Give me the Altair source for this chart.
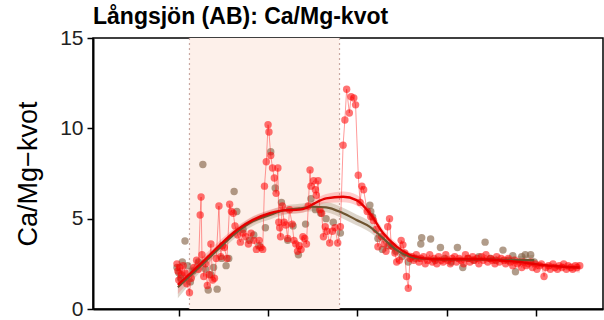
import altair as alt
import pandas as pd

# ---- data ----
period = [1971.2, 1988.0]

red_year = [1969.8, 1969.9, 1970.0, 1970.1, 1970.3, 1970.5, 1970.7, 1970.9, 1971.2, 1971.4,
            1971.7, 1972.0, 1972.2, 1972.4, 1972.5, 1972.6, 1972.8, 1973.0, 1973.2, 1973.4,
            1973.6, 1973.8, 1974.0, 1974.2, 1974.5, 1974.7, 1974.9, 1975.1, 1975.4, 1975.7,
            1975.9, 1976.1, 1976.3, 1976.6, 1976.9, 1977.2, 1977.5, 1977.8, 1978.1, 1978.4,
            1978.7, 1979.0, 1979.2, 1979.4, 1979.6, 1979.8, 1980.0, 1980.1, 1980.3, 1980.5,
            1980.7, 1980.9, 1981.1, 1981.2, 1981.3, 1981.4, 1981.6, 1981.8, 1982.0, 1982.2,
            1982.4, 1982.7, 1982.9, 1983.1, 1983.3, 1983.5, 1983.7, 1983.9, 1984.1, 1984.3,
            1984.5, 1984.7, 1984.8, 1985.1, 1985.3, 1985.4, 1985.6, 1985.8, 1986.0, 1986.2,
            1986.4, 1986.6, 1986.9, 1987.2, 1987.5, 1987.8, 1988.1, 1988.4, 1988.6, 1988.8,
            1989.1, 1989.3, 1989.6, 1989.8, 1990.1, 1990.3, 1990.5, 1990.7, 1991.1, 1991.5,
            1991.8, 1992.1, 1992.3, 1992.7, 1993.0, 1993.2, 1993.4, 1993.6, 1993.8, 1994.0,
            1994.2, 1994.4, 1994.7, 1994.9, 1995.1, 1995.3, 1995.5, 1995.7, 1995.9, 1996.1,
            1996.3, 1996.6, 1996.9, 1997.1, 1997.4, 1997.6, 1997.9, 1998.1, 1998.4, 1998.6,
            1998.9, 1999.1, 1999.4, 1999.6, 1999.9, 2000.1, 2000.4, 2000.6, 2000.9, 2001.1,
            2001.4, 2001.6, 2001.9, 2002.1, 2002.4, 2002.6, 2002.9, 2003.1, 2003.4, 2003.6,
            2003.9, 2004.1, 2004.4, 2004.6, 2004.9, 2005.1, 2005.4, 2005.6, 2005.9, 2006.1,
            2006.4, 2006.6, 2006.9, 2007.1, 2007.4, 2007.6, 2007.9, 2008.1, 2008.4, 2008.6,
            2008.9, 2009.1, 2009.4, 2009.6, 2009.9, 2010.1, 2010.4, 2010.6, 2010.9, 2011.1,
            2011.4, 2011.6, 2011.9, 2012.1, 2012.4, 2012.6, 2012.9, 2013.1, 2013.4, 2013.6,
            2013.9, 2014.1, 2014.4, 2014.6, 2014.9]
red_val = [2.5, 2.1, 1.6, 2.3, 1.9, 2.4, 2.0, 1.4, 0.9, 1.7,
           2.3, 2.7, 2.2, 5.2, 6.2, 3.0, 1.8, 2.5, 1.3, 1.9,
           3.6, 1.6, 1.7, 2.8, 5.7, 2.9, 3.5, 3.4, 2.8, 5.8,
           5.4, 5.3, 4.6, 4.1, 3.7, 4.2, 4.0, 3.6, 4.2, 3.8,
           3.3, 3.8, 3.4, 3.3, 6.8, 8.15, 10.2, 9.8, 8.5, 7.8,
           7.25, 6.4, 7.8, 4.8, 4.5, 4.0, 5.7, 4.8, 4.65, 3.9,
           5.5, 4.7, 3.8, 3.6, 3.2, 3.5, 3.3, 4.0, 3.9, 3.6,
           5.7, 7.7, 6.8, 7.1, 6.6, 6.3, 7.1, 5.5, 5.3, 4.0,
           4.55, 4.3, 3.65, 4.3, 4.5, 3.65, 4.55, 9.07, 10.46, 12.16,
           10.85, 11.75, 11.68, 11.3, 7.4, 5.9, 6.8, 6.6, 5.4, 5.1,
           4.9, 4.4, 3.45, 4.0, 3.6, 3.2, 4.55, 5.0, 3.5, 3.45,
           3.1, 2.6, 2.7, 3.8, 3.55, 3.1, 1.8, 1.15, 2.8, 2.9,
           2.7, 3.0, 2.6, 2.8, 2.9, 2.5, 2.7, 3.0, 2.6, 2.8,
           2.5, 2.9, 2.7, 2.6, 3.0, 2.7, 2.5, 2.8, 2.9, 2.6,
           2.8, 2.7, 2.5, 3.0, 2.8, 2.6, 2.9, 2.7, 2.8, 2.5,
           2.9, 2.7, 3.0, 2.6, 2.8, 2.7, 2.5, 2.9, 2.6, 2.8,
           2.7, 2.5, 2.8, 2.6, 2.4, 2.7, 2.5, 2.6, 2.3, 2.6,
           2.4, 2.5, 2.6, 2.3, 2.5, 2.2, 2.4, 2.5, 1.8, 2.3,
           2.4, 2.2, 2.5, 2.3, 2.2, 2.4, 2.3, 2.5, 2.2, 2.4,
           2.3, 2.2, 2.4, 2.3, 2.4]

brown_year = [1969.8, 1970.0, 1970.2, 1970.4, 1970.7, 1971.0, 1971.3, 1971.6, 1972.2, 1972.7,
              1973.0, 1973.3, 1973.6, 1973.9, 1974.3, 1974.8, 1975.3, 1975.6, 1976.2, 1976.5,
              1977.2, 1977.9, 1978.4, 1979.0, 1979.7, 1980.3, 1980.8, 1981.5, 1982.2, 1982.8,
              1983.4, 1984.2, 1984.8, 1985.3, 1985.9, 1986.5, 1987.3, 1988.1, 1991.4, 1991.5,
              1991.7, 1992.3, 1992.8, 1993.5, 1994.3, 1995.0, 1995.7, 1996.5, 1997.1, 1997.2,
              1998.2, 1998.7, 1999.3, 1999.8, 2000.5, 2001.2, 2001.8, 2002.4, 2003.0, 2003.6,
              2004.3, 2004.9, 2005.5, 2006.3, 2006.9, 2007.4, 2007.7, 2008.4, 2008.8, 2009.4,
              2009.8]
brown_val = [2.3, 2.0, 1.7, 2.6, 3.76, 2.4, 1.5, 2.1, 2.6, 8.0,
             2.2, 1.05, 1.9, 2.3, 1.1, 2.8, 2.4, 2.8, 6.5, 5.4,
             4.4, 3.8, 4.1, 3.5, 4.5, 8.7, 6.7, 5.9, 3.8, 4.6,
             3.0, 4.7, 6.1, 5.5, 5.3, 5.0, 4.8, 4.2, 5.75, 5.4,
             5.1, 3.9, 3.3, 3.5, 3.2, 2.9, 2.6, 2.8, 3.6, 3.95,
             3.87, 2.7, 3.4, 2.8, 2.6, 3.4, 2.3, 2.8, 2.7, 2.9,
             3.7, 2.8, 2.7, 3.26, 2.7, 2.95, 2.06, 2.9, 3.0, 3.0,
             2.6]

red_fit_year = [1969.9, 1972.7, 1974.6, 1976.5, 1978.3, 1980.2, 1981.7, 1983.5, 1984.3, 1985.2,
                1986.5, 1988.4, 1989.9, 1991.4, 1992.9, 1994.4, 1995.9, 1997.4, 1999.2, 2001.5,
                2003.7, 2005.9, 2008.2, 2010.4, 2012.7, 2014.9]
red_fit_val = [1.33, 2.62, 3.54, 4.37, 4.93, 5.3, 5.46, 5.5, 5.6, 5.85,
               6.12, 6.21, 6.03, 5.3, 4.19, 3.45, 2.99, 2.8, 2.75, 2.75,
               2.75, 2.7, 2.6, 2.45, 2.35, 2.3]
red_fit_halfwidth = [0.5, 0.3, 0.25, 0.2, 0.2, 0.2, 0.2, 0.2, 0.2, 0.22,
                     0.25, 0.3, 0.3, 0.25, 0.2, 0.2, 0.15, 0.12, 0.1, 0.1,
                     0.1, 0.1, 0.1, 0.12, 0.15, 0.3]

brown_fit_year = [1969.9, 1972.7, 1974.6, 1976.5, 1978.3, 1980.2, 1981.7, 1983.5, 1985.0, 1986.5,
                  1988.4, 1989.9, 1991.4, 1992.9, 1994.4, 1995.9, 1997.4, 2000.0, 2003.0, 2006.0,
                  2009.8]
brown_fit_val = [1.2, 2.5, 3.4, 4.25, 4.85, 5.2, 5.45, 5.57, 5.66, 5.63,
                 5.3, 4.93, 4.55, 3.91, 3.26, 2.9, 2.78, 2.75, 2.75, 2.72,
                 2.7]
brown_fit_halfwidth = [0.6, 0.3, 0.25, 0.25, 0.25, 0.25, 0.25, 0.25, 0.25, 0.28,
                       0.3, 0.3, 0.3, 0.25, 0.2, 0.15, 0.12, 0.12, 0.12, 0.15,
                       0.3]

x_ticks = [1970, 1980, 1990, 2000, 2010]
y_ticks = [0, 5, 10, 15]

# ---- tables ----
red_df = pd.DataFrame({"year": red_year, "value": red_val})
brown_df = pd.DataFrame({"year": brown_year, "value": brown_val})
red_fit = pd.DataFrame({"year": red_fit_year, "value": red_fit_val,
                        "lo": [v - h for v, h in zip(red_fit_val, red_fit_halfwidth)],
                        "hi": [v + h for v, h in zip(red_fit_val, red_fit_halfwidth)]})
brown_fit = pd.DataFrame({"year": brown_fit_year, "value": brown_fit_val,
                          "lo": [v - h for v, h in zip(brown_fit_val, brown_fit_halfwidth)],
                          "hi": [v + h for v, h in zip(brown_fit_val, brown_fit_halfwidth)]})
period_df = pd.DataFrame({"start": [period[0]], "end": [period[1]]})
edge_df = pd.DataFrame({"year": period})

FONT = "Liberation Sans"
xscale = alt.Scale(domain=[1960.4, 2017.5], nice=False, zero=False)
yscale = alt.Scale(domain=[0, 15], nice=False, zero=False)
xaxis = alt.Axis(values=x_ticks, labels=False, title=None, grid=False, ticks=True,
                 tickSize=7, tickWidth=1.5, tickColor="black", domainColor="black",
                 domainWidth=2)
yaxis = alt.Axis(values=y_ticks, title="Ca/Mg\u2212kvot", grid=False, tickSize=6,
                 tickWidth=1.5, tickColor="black", domainColor="black", domainWidth=2,
                 labelFontSize=21, labelColor="#222222", labelPadding=4,
                 titleFontSize=27, titleFontWeight="normal", titleColor="black",
                 titlePadding=17, labelFont=FONT, titleFont=FONT)

X = lambda f: alt.X(f, scale=xscale, axis=xaxis)
Y = lambda f: alt.Y(f, scale=yscale, axis=yaxis)

shade = alt.Chart(period_df).mark_rect(color="#fdf0ea").encode(
    x=X("start:Q"), x2="end:Q", y=alt.value(0), y2=alt.value(271))
edges = alt.Chart(edge_df).mark_rule(color="#c9a9a2", strokeDash=[2, 3], strokeWidth=1.2).encode(
    x=X("year:Q"))

brown_band = alt.Chart(brown_fit).mark_area(color="#b5a48e", opacity=0.45, interpolate="monotone").encode(
    x=X("year:Q"), y=Y("lo:Q"), y2="hi:Q")
red_band = alt.Chart(red_fit).mark_area(color="#ff7070", opacity=0.35, interpolate="monotone").encode(
    x=X("year:Q"), y=Y("lo:Q"), y2="hi:Q")

brown_pts = alt.Chart(brown_df).mark_circle(size=55, color="#7d5a3c", opacity=0.6).encode(
    x=X("year:Q"), y=Y("value:Q"))
red_line = alt.Chart(red_df).mark_line(color="#ff2020", strokeWidth=1, opacity=0.45).encode(
    x=X("year:Q"), y=Y("value:Q"), order="year:Q")
red_pts = alt.Chart(red_df).mark_circle(size=55, color="#ff0000", opacity=0.55).encode(
    x=X("year:Q"), y=Y("value:Q"))

brown_curve = alt.Chart(brown_fit).mark_line(color="#6e5430", strokeWidth=2.2, interpolate="monotone").encode(
    x=X("year:Q"), y=Y("value:Q"))
red_curve = alt.Chart(red_fit).mark_line(color="#e60000", strokeWidth=2.4, interpolate="monotone").encode(
    x=X("year:Q"), y=Y("value:Q"))

chart = alt.layer(
    shade, edges, brown_band, red_band, brown_pts, red_line, red_pts, brown_curve, red_curve
).properties(
    width=510, height=271,
    autosize=alt.AutoSizeParams(type="none"),
    padding={"left": 93, "top": 38, "right": 1, "bottom": 11},
    title=alt.TitleParams("Långsjön (AB): Ca/Mg-kvot", anchor="start", frame="group",
                          fontSize=23, fontWeight="bold", font=FONT, color="black",
                          offset=-2),
).configure(font=FONT).configure_view(stroke="black", strokeWidth=1.5)

chart.save("out.html", embed_options={"renderer": "svg", "actions": False})
